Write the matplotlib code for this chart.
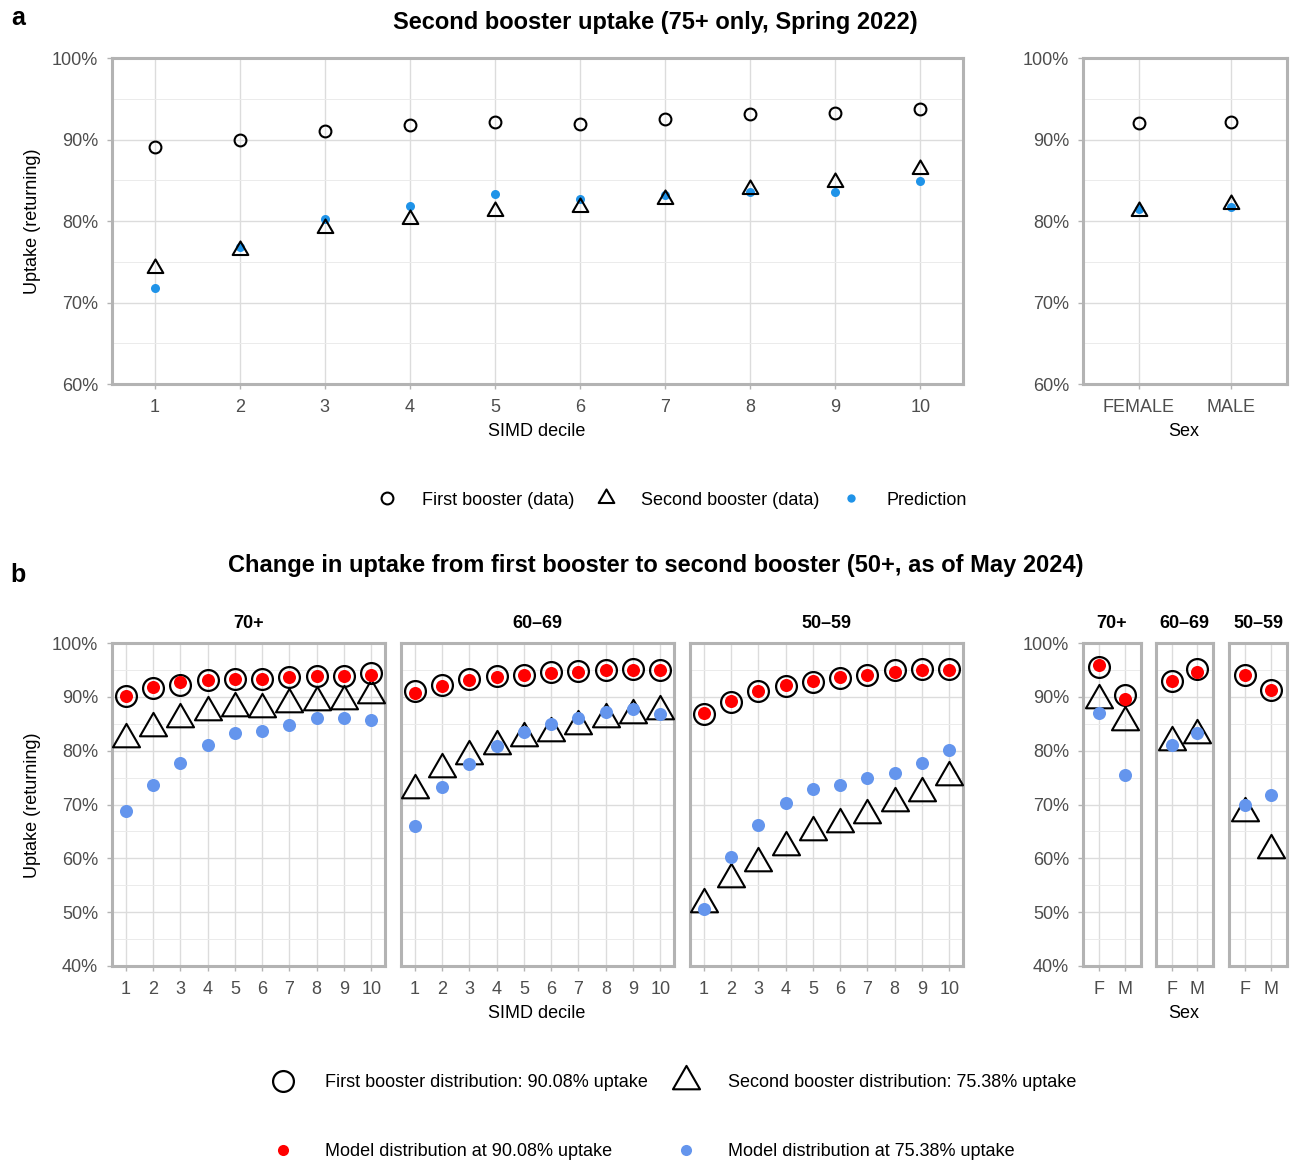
import matplotlib
matplotlib.use("Agg")
import matplotlib.pyplot as plt
import numpy as np
from matplotlib.path import Path
from matplotlib.lines import Line2D
from matplotlib.ticker import FuncFormatter

plt.rcParams["font.family"] = ["Liberation Sans", "DejaVu Sans"]

# ---------------- data ----------------
deciles = list(range(1, 11))
sex_a = ["FEMALE", "MALE"]
sex_b = ["F", "M"]
age_groups = ["70+", "60\u201369", "50\u201359"]

# panel a (75+, spring 2022)
a_first = [89.1, 90.0, 91.0, 91.8, 92.1, 91.9, 92.5, 93.1, 93.2, 93.7]
a_second = [74.2, 76.5, 79.2, 80.2, 81.2, 81.7, 82.7, 83.9, 84.8, 86.4]
a_pred = [71.8, 76.8, 80.3, 81.8, 83.3, 82.7, 83.2, 83.5, 83.5, 84.9]
a_sex_first = [92.0, 92.1]
a_sex_second = [81.2, 82.1]
a_sex_pred = [81.5, 81.7]

# panel b (50+, May 2024) by SIMD decile
b_first_70 = [90.2, 91.6, 92.2, 93.2, 93.4, 93.3, 93.6, 93.9, 93.9, 94.5]
b_model90_70 = [90.2, 91.9, 92.7, 93.2, 93.4, 93.4, 93.6, 93.8, 93.8, 94.1]
b_second_70 = [82.1, 84.2, 85.9, 87.2, 87.9, 87.8, 88.6, 89.1, 89.2, 90.4]
b_model75_70 = [68.8, 73.7, 77.7, 81.0, 83.2, 83.7, 84.8, 86.0, 86.1, 85.7]

b_first_60 = [91.0, 92.2, 93.3, 93.9, 94.1, 94.7, 94.8, 95.0, 95.2, 95.0]
b_model90_60 = [90.7, 92.0, 93.2, 93.6, 94.0, 94.4, 94.7, 94.9, 94.9, 94.9]
b_second_60 = [72.7, 76.6, 79.0, 80.9, 82.4, 83.3, 84.6, 85.9, 86.7, 87.3]
b_model75_60 = [66.0, 73.3, 77.6, 80.9, 83.5, 84.9, 86.0, 87.2, 87.8, 86.8]

b_first_50 = [86.8, 89.0, 91.0, 92.1, 92.8, 93.5, 94.0, 94.9, 95.1, 95.2]
b_model90_50 = [87.0, 89.3, 91.1, 92.2, 93.0, 93.7, 94.1, 94.7, 95.0, 95.0]
b_second_50 = [51.6, 56.2, 59.2, 62.1, 64.9, 66.4, 68.0, 70.3, 72.2, 75.2]
b_model75_50 = [50.6, 60.2, 66.1, 70.3, 72.8, 73.6, 75.0, 75.8, 77.8, 80.1]

# panel b by sex (F, M)
bs_first = [[95.5, 90.4], [93.0, 95.2], [94.1, 91.3]]
bs_model90 = [[96.0, 89.6], [93.0, 94.7], [94.0, 91.3]]
bs_second = [[89.4, 85.4], [81.7, 83.0], [68.5, 61.5]]
bs_model75 = [[87.0, 75.4], [81.0, 83.2], [69.9, 71.7]]

# ---------------- style ----------------
W, H = 1293, 1161
BLUE_A = "#1f93e8"
BLUE_B = "#6495ed"
RED = "#ff0000"
BORDER = "#b3b3b3"
TICKC = "#4d4d4d"
FS = 13

TRI = Path([(0, 1), (-0.866, -0.5), (0.866, -0.5), (0, 1)],
           [Path.MOVETO, Path.LINETO, Path.LINETO, Path.CLOSEPOLY])

fig = plt.figure(figsize=(W / 100, H / 100), dpi=100)
fig.patch.set_facecolor("white")


def add_ax(x0, y0, x1, y1):
    return fig.add_axes([x0 / W, 1 - y1 / H, (x1 - x0) / W, (y1 - y0) / H])


def style(ax, lo, hi, xt, xlabels, xlim, show_y):
    ax.set_xlim(*xlim)
    ax.set_ylim(lo, hi)
    ax.set_xticks(xt)
    ax.set_xticklabels(xlabels)
    ax.set_yticks(np.arange(lo, hi + 0.1, 10))
    ax.set_yticks(np.arange(lo + 5, hi, 10), minor=True)
    ax.grid(True, which="major", color="#dcdcdc", lw=1.0)
    ax.grid(True, which="minor", axis="y", color="#ebebeb", lw=0.7)
    ax.set_axisbelow(True)
    for s in ax.spines.values():
        s.set_color(BORDER)
        s.set_linewidth(2.2)
    ax.tick_params(which="major", length=3.5, width=1, color=BORDER,
                   labelcolor=TICKC, labelsize=FS)
    ax.tick_params(axis="x", pad=7)
    ax.tick_params(axis="y", pad=6.5)
    ax.tick_params(which="minor", length=0)
    ax.yaxis.set_major_formatter(FuncFormatter(lambda v, p: f"{v:.0f}%"))
    if not show_y:
        ax.tick_params(axis="y", which="both", length=0, labelleft=False)


# ---------------- panel a ----------------
ax_a = add_ax(112, 58, 963, 384)
style(ax_a, 60, 100, deciles, [str(d) for d in deciles], (0.5, 10.5), True)
ax_a.plot(deciles, a_pred, "o", color=BLUE_A, ms=6.5, mew=0, zorder=3)
ax_a.plot(deciles, a_second, ls="none", marker=TRI, ms=13, mfc="none",
          mec="black", mew=1.5, zorder=4)
ax_a.plot(deciles, a_first, "o", ms=8.5, mfc="none", mec="black", mew=1.5, zorder=4)

ax_as = add_ax(1083, 58, 1287, 384)
xs = [1, 2]
style(ax_as, 60, 100, xs, sex_a, (0.4, 2.6), True)
ax_as.plot(xs, a_sex_pred, "o", color=BLUE_A, ms=6.5, mew=0, zorder=3)
ax_as.plot(xs, a_sex_second, ls="none", marker=TRI, ms=13, mfc="none",
           mec="black", mew=1.5, zorder=4)
ax_as.plot(xs, a_sex_first, "o", ms=8.5, mfc="none", mec="black", mew=1.5, zorder=4)

fig.text(18 / W, 1 - 18 / H, "a", fontsize=18, fontweight="bold", ha="center", va="center")
fig.text(655 / W, 1 - 22 / H, "Second booster uptake (75+ only, Spring 2022)",
         fontsize=17, fontweight="bold", ha="center", va="center")
fig.text(33 / W, 1 - 221 / H, "Uptake (returning)", rotation=90, fontsize=FS,
         ha="center", va="center")
fig.text(537 / W, 1 - 432 / H, "SIMD decile", fontsize=FS, ha="center", va="center")
fig.text(1184 / W, 1 - 432 / H, "Sex", fontsize=FS, ha="center", va="center")

leg_a = [
    Line2D([], [], ls="none", marker="o", ms=8.5, mfc="none", mec="black", mew=1.5),
    Line2D([], [], ls="none", marker=TRI, ms=13, mfc="none", mec="black", mew=1.5),
    Line2D([], [], ls="none", marker="o", ms=6, color=BLUE_A, mew=0),
]
fig.legend(leg_a, ["First booster (data)", "Second booster (data)", "Prediction"],
           loc="center", bbox_to_anchor=(668 / W, 1 - 500 / H), ncol=3, frameon=False,
           fontsize=FS, handlelength=2.0, handletextpad=0.95, columnspacing=0.75)

# ---------------- panel b ----------------
b_first = [b_first_70, b_first_60, b_first_50]
b_model90 = [b_model90_70, b_model90_60, b_model90_50]
b_second = [b_second_70, b_second_60, b_second_50]
b_model75 = [b_model75_70, b_model75_60, b_model75_50]

dec_x = [(112, 385), (401, 674), (690, 963)]
sex_x = [(1083, 1141), (1156, 1213), (1229, 1287)]
Y0, Y1 = 643, 966
strip_off = (Y0 - 623) / (Y1 - Y0)


def draw_b(ax, x, first, m90, second, m75):
    ax.plot(x, first, "o", ms=15, mfc="none", mec="black", mew=1.6, zorder=3)
    ax.plot(x, m90, "o", color=RED, ms=9.4, mew=0, zorder=4)
    ax.plot(x, second, ls="none", marker=TRI, ms=22.5, mfc="none", mec="black",
            mew=1.5, zorder=3)
    ax.plot(x, m75, "o", color=BLUE_B, ms=9.4, mew=0, zorder=4)


for i, g in enumerate(age_groups):
    ax = add_ax(dec_x[i][0], Y0, dec_x[i][1], Y1)
    style(ax, 40, 100, deciles, [str(d) for d in deciles], (0.5, 10.5), i == 0)
    draw_b(ax, deciles, b_first[i], b_model90[i], b_second[i], b_model75[i])
    ax.text(0.5, 1 + strip_off, g, transform=ax.transAxes, fontsize=FS,
            fontweight="bold", ha="center", va="center")

    axs = add_ax(sex_x[i][0], Y0, sex_x[i][1], Y1)
    style(axs, 40, 100, xs, sex_b, (0.4, 2.6), i == 0)
    draw_b(axs, xs, bs_first[i], bs_model90[i], bs_second[i], bs_model75[i])
    axs.text(0.5, 1 + strip_off, g, transform=axs.transAxes, fontsize=FS,
             fontweight="bold", ha="center", va="center")

fig.text(18 / W, 1 - 575 / H, "b", fontsize=18, fontweight="bold", ha="center", va="center")
fig.text(656 / W, 1 - 565 / H,
         "Change in uptake from first booster to second booster (50+, as of May 2024)",
         fontsize=17, fontweight="bold", ha="center", va="center")
fig.text(33 / W, 1 - 805 / H, "Uptake (returning)", rotation=90, fontsize=FS,
         ha="center", va="center")
fig.text(537 / W, 1 - 1014 / H, "SIMD decile", fontsize=FS, ha="center", va="center")
fig.text(1184 / W, 1 - 1014 / H, "Sex", fontsize=FS, ha="center", va="center")

leg_b = [
    Line2D([], [], ls="none", marker="o", ms=15, mfc="none", mec="black", mew=1.6),
    Line2D([], [], ls="none", marker="o", ms=8, color=RED, mew=0),
    Line2D([], [], ls="none", marker=TRI, ms=22.5, mfc="none", mec="black", mew=1.5),
    Line2D([], [], ls="none", marker="o", ms=8, color=BLUE_B, mew=0),
]
fig.legend(leg_b, ["First booster distribution: 90.08% uptake",
                   "Model distribution at 90.08% uptake",
                   "Second booster distribution: 75.38% uptake",
                   "Model distribution at 75.38% uptake"],
           loc="center", bbox_to_anchor=(669 / W, 1 - 1117 / H), ncol=2, frameon=False,
           fontsize=FS, handlelength=2.4, handletextpad=1.1, columnspacing=0.95,
           labelspacing=2.9)

fig.savefig("out.png", dpi=100, facecolor="white")
